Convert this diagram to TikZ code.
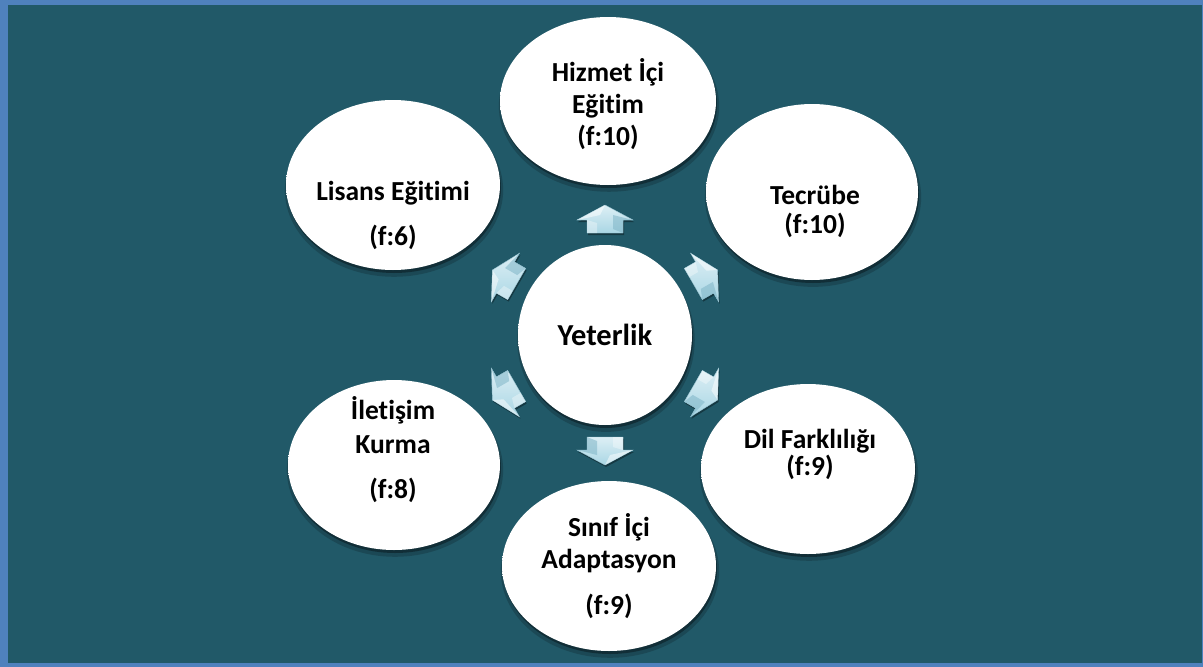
\documentclass[tikz,border=0pt]{standalone}
\usepackage{fontspec}
\setmainfont{Carlito}[RawFeature=-liga]
\usetikzlibrary{shapes.geometric,shadows,calc}
\definecolor{bgteal}{HTML}{215968}
\definecolor{frameblue}{HTML}{4F81BD}
\definecolor{arrowlight}{HTML}{DDEFF5}
\definecolor{arrowmid}{HTML}{A9D6E4}
\definecolor{arrowdark}{HTML}{7FB5C7}
\pgfdeclareradialshading{ballwhite}{\pgfpoint{-2bp}{6bp}}{color(0bp)=(white); color(38bp)=(white); color(50bp)=(black!9); color(56bp)=(black!22); color(70bp)=(black!30)}
\newcommand\blockarr[2]{%
  \begin{scope}[shift={($(Y.center)+(#1:115pt)$)}, rotate=#1]
    \path[arrowst] (-13,-18) -- (0,-18) -- (0,-28) -- (15,0) -- (0,28) -- (0,18) -- (-13,18) -- cycle;
    \fill[white, opacity=0.5] (0,-28) -- (15,0) -- (5,-5) -- cycle;
    \fill[white, opacity=0.35] (-13,-18) -- (0,-18) -- (-3,-8) -- (-13,-8) -- cycle;
    \fill[arrowdark, opacity=0.55] (-13,18) -- (0,18) -- (0,28) -- (5,8) -- (-9,8) -- cycle;
    \coordinate (#2) at (0,0);
  \end{scope}}
\begin{document}
\begin{tikzpicture}[x=1pt,y=-1pt,
  bubble/.style={ellipse, shading=ballwhite, inner sep=0pt,
    general shadow={shadow xshift=1pt, shadow yshift=-5pt, shadow scale=1.02, opacity=0.18, fill=black},
    general shadow={shadow xshift=1pt, shadow yshift=-3pt, opacity=0.35, fill=black}},
  lbl/.style={font=\fontsize{27.5}{31}\selectfont\bfseries, anchor=mid, inner sep=0pt, text=black},
  arrowst/.style={top color=arrowlight, bottom color=arrowmid, draw=arrowdark!80, line width=0.4pt,
    general shadow={shadow xshift=1pt, shadow yshift=-2pt, opacity=0.35, fill=black}}]
  \useasboundingbox (0,0) rectangle (1203,667);
  \fill[frameblue] (0,0) rectangle (1203,667);
  \fill[bgteal] (8,5) rectangle (1202,663);

  % nodes
  \node[bubble, minimum width=174pt, minimum height=180pt,
        font=\fontsize{30.5}{34}\selectfont\bfseries] (Y) at (605,335) {Yeterlik};
  \node[bubble, minimum width=216pt, minimum height=168pt] (H) at (608,101) {};
  \node[bubble, minimum width=212pt, minimum height=176pt] (T) at (812,192) {};
  \node[bubble, minimum width=214pt, minimum height=170pt] (D) at (808,469) {};
  \node[bubble, minimum width=214pt, minimum height=170pt] (S) at (609,566) {};
  \node[bubble, minimum width=212pt, minimum height=170pt] (I) at (394,465) {};
  \node[bubble, minimum width=214pt, minimum height=170pt] (L) at (393,185) {};

  % labels
  \node[lbl] (H1) at (608,79) {Hizmet İçi};
  \node[lbl] (H2) at (608,111) {Eğitim};
  \node[lbl] (H3) at (608,143) {(f:10)};
  \node[lbl] (T1) at (815,202) {Tecrübe};
  \node[lbl] (T2) at (815,231) {(f:10)};
  \node[lbl] (L1) at (393,198) {Lisans Eğitimi};
  \node[lbl] (L2) at (393,243) {(f:6)};
  \node[lbl] (I1) at (393,417) {İletişim};
  \node[lbl] (I2) at (393,451) {Kurma};
  \node[lbl] (I3) at (393,496) {(f:8)};
  \node[lbl] (D1) at (810,446) {Dil Farklılığı};
  \node[lbl] (D2) at (810,473) {(f:9)};
  \node[lbl] (S1) at (609,534) {Sınıf İçi};
  \node[lbl] (S2) at (609,566) {Adaptasyon};
  \node[lbl] (S3) at (609,612) {(f:9)};

  % block arrows from Yeterlik toward each bubble
  \blockarr{90}{aH}
  \blockarr{30}{aT}
  \blockarr{-30}{aD}
  \blockarr{-90}{aS}
  \blockarr{210}{aI}
  \blockarr{150}{aL}
\end{tikzpicture}
\end{document}
